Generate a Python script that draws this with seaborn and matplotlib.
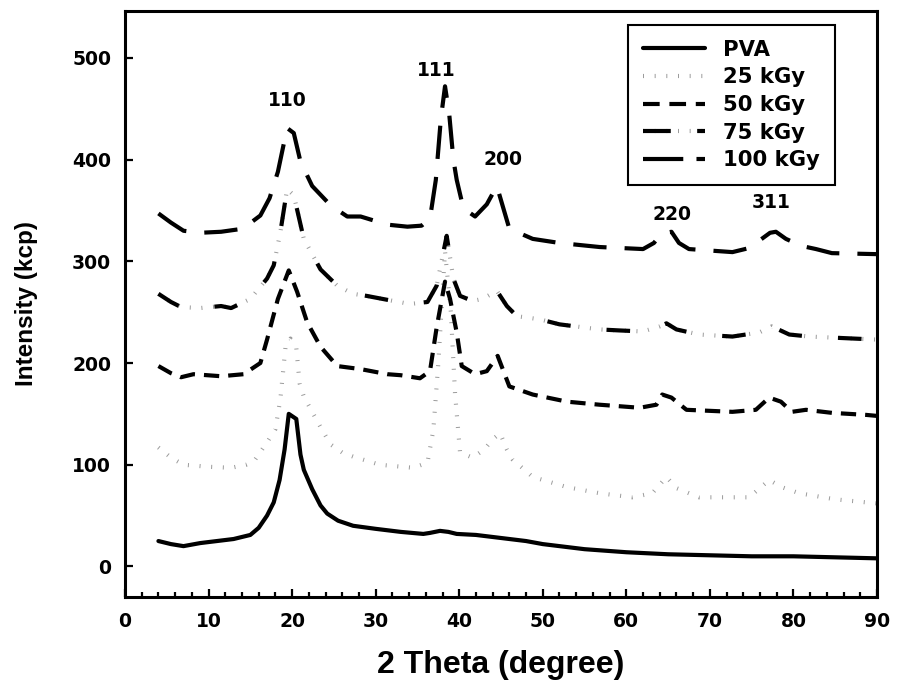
import numpy as np
import pandas as pd
import matplotlib
matplotlib.use("Agg")
import matplotlib.pyplot as plt
import seaborn as sns
from matplotlib.lines import Line2D
from matplotlib.legend_handler import HandlerTuple

sns.set_theme(style="white")
plt.rcParams["font.family"] = ["DejaVu Sans"]
plt.rcParams["lines.scale_dashes"] = False
plt.rcParams["text.color"] = "black"
plt.rcParams["axes.labelcolor"] = "black"
plt.rcParams["xtick.color"] = "black"
plt.rcParams["ytick.color"] = "black"

# ---------------- data ----------------
pva_x = [4, 5.5, 7, 9, 11, 13, 15, 16, 17, 17.8, 18.5, 19.1, 19.6, 20.5, 21, 21.4, 22.4,
         23.4, 24.2, 25.5, 27.3, 30, 33, 35.7, 36.5, 37.7, 38.7, 39.7, 42, 45, 48, 50,
         55, 60, 65, 70, 75, 80, 85, 90]
pva_y = [25, 22, 20, 23, 25, 27, 31, 38, 50, 63, 85, 115, 150, 145, 110, 95, 76,
         60, 52, 45, 40, 37, 34, 32, 33, 35, 34, 32, 31, 28, 25, 22,
         17, 14, 12, 11, 10, 10, 9, 8]

k25_x = [4, 5.5, 7, 10, 12.7, 14.5, 15.4, 17, 18, 18.6, 19.2, 19.8, 20.5, 20.9, 21.4,
         23.4, 24.6, 26, 27.3, 30.5, 34.5, 36.2, 36.9, 37.5, 38.3, 39, 39.5, 40.1, 41.6,
         43, 44, 44.9, 45.7, 46.4, 48.8, 52.9, 56.8, 60.7, 63.1, 64.8, 66, 68.7, 74.7,
         77.1, 78.6, 80.7, 85, 90]
k25_y = [117, 107, 100, 98, 97, 100, 103, 122, 135, 165, 215, 224, 215, 180, 167,
         137, 120, 112, 108, 100, 97, 102, 134, 200, 310, 250, 170, 112, 107,
         115, 125, 131, 115, 105, 88, 78, 72, 68, 72, 88, 77, 68, 68,
         85, 78, 72, 66, 62]

k50_x = [4, 5.5, 6.7, 8.2, 11.5, 14.2, 16.2, 17, 18.3, 19.6, 20.6, 21.8, 23.4, 25.4,
         28.2, 31.4, 33, 35.3, 36.5, 37.3, 38.3, 38.9, 39.7, 40.3, 41.9, 43.3, 44.6, 46,
         48.8, 52.9, 56.8, 61.6, 63.6, 64.3, 65.4, 67.2, 72.7, 75.5, 77.1, 78.5, 79.8,
         81.5, 84.6, 88.7, 90]
k50_y = [197, 190, 186, 189, 187, 189, 200, 223, 263, 291, 270, 240, 216, 197,
         194, 189, 188, 185, 192, 235, 280, 263, 230, 197, 189, 192, 207, 177,
         169, 162, 159, 156, 159, 169, 166, 154, 152, 154, 166, 162, 152,
         154, 151, 149, 148]

k75_x = [4, 5.5, 6.7, 9, 11.5, 12.7, 15, 17, 17.8, 18.6, 19.4, 20.2, 21.4, 23.4, 25.4,
         27.3, 28.9, 32.1, 34.1, 36.2, 37.3, 38.5, 39.3, 40.1, 41.6, 42.8, 44.5, 45.7,
         46.9, 49.6, 52, 56.8, 59.2, 62, 64, 64.8, 66, 68.7, 72.7, 75.9, 77.4, 79.5,
         81.9, 84.6, 90]
k75_y = [268, 260, 255, 254, 256, 254, 263, 283, 296, 329, 371, 365, 322, 292, 276,
         268, 266, 261, 258, 260, 276, 325, 283, 266, 261, 263, 271, 256,
         246, 243, 238, 233, 232, 231, 236, 239, 233, 228, 226, 230, 236, 228,
         226, 225, 223]

k100_x = [4, 5.5, 7, 9, 11.5, 14.1, 16.2, 17.3, 18.3, 19.4, 20.2, 21, 22.4, 24.6, 26.6,
          28.2, 31.4, 33.8, 35.5, 36.5, 37.2, 37.8, 38.3, 38.8, 39.3, 39.7, 40.5, 41.9,
          43.3, 44.5, 46, 48.8, 52, 56.8, 62, 63.3, 64.2, 65.4, 66.3, 67.5, 72.7, 74.7,
          77.2, 77.9, 79.1, 81, 82.7, 84.6, 90]
k100_y = [347, 338, 330, 328, 329, 332, 345, 362, 388, 431, 426, 398, 374, 355, 344,
          344, 336, 334, 335, 342, 380, 440, 472, 445, 400, 380, 352, 344,
          356, 374, 332, 322, 318, 314, 312, 318, 327, 329, 318, 312, 309, 313,
          328, 329, 322, 315, 312, 308, 307]

peak_labels = ["110", "111", "200", "220", "311"]
peak_x = [19.4, 37.2, 45.2, 65.5, 77.3]
peak_y = [458, 488, 400, 346, 358]

series_names = ["PVA", "25 kGy", "50 kGy", "75 kGy", "100 kGy"]
xticks = [0, 10, 20, 30, 40, 50, 60, 70, 80, 90]
yticks = [0, 100, 200, 300, 400, 500]

# ---------------- figure ----------------
fig = plt.figure(figsize=(8.99, 6.84), dpi=100)
ax = fig.add_axes([125 / 899, 87 / 684, 752 / 899, 586 / 684])

gray = "#9a9a9a"
dot_style = dict(color=gray, linewidth=3.0, linestyle=(0, (0.7, 7.7)), solid_capstyle="butt",
                 dash_capstyle="butt")

# PVA
sns.lineplot(x=pva_x, y=pva_y, ax=ax, color="black", linewidth=3.0, estimator=None, sort=False)
# 25 kGy
sns.lineplot(x=k25_x, y=k25_y, ax=ax, estimator=None, sort=False, **dot_style)
# 50 kGy
sns.lineplot(x=k50_x, y=k50_y, ax=ax, color="black", linewidth=3.0, estimator=None, sort=False,
             linestyle=(0, (11, 6.5)), dash_capstyle="butt")
# 75 kGy : gray dots + long black dashes
sns.lineplot(x=k75_x, y=k75_y, ax=ax, estimator=None, sort=False, **dot_style)
sns.lineplot(x=k75_x, y=k75_y, ax=ax, color="black", linewidth=3.0, estimator=None, sort=False,
             linestyle=(0, (17, 26)), dash_capstyle="butt")
# 100 kGy
sns.lineplot(x=k100_x, y=k100_y, ax=ax, color="black", linewidth=3.0, estimator=None, sort=False,
             linestyle=(0, (24, 13)), dash_capstyle="butt")

# peak labels
for t, px, py in zip(peak_labels, peak_x, peak_y):
    ax.text(px, py, t, ha="center", va="center", fontsize=13.5, fontweight="bold",
            family=["DejaVu Sans"], color="black")

# axes
ax.set_xlim(0, 90)
ax.set_ylim(-30, 546)
ax.set_xticks(xticks)
ax.set_xticks(np.arange(0, 91, 2), minor=True)
ax.set_yticks(yticks)
for s in ax.spines.values():
    s.set_linewidth(2.2)
    s.set_color("black")
ax.tick_params(axis="both", which="major", direction="in", length=6, width=1.6,
               colors="black", labelsize=13.5, bottom=True, left=True, top=False, right=False)
ax.tick_params(axis="x", which="minor", direction="in", length=3.5, width=1.6, bottom=True,
               top=False, colors="black")
ax.tick_params(axis="x", which="major", pad=11)
ax.tick_params(axis="y", which="major", pad=10)
for lab in ax.get_xticklabels() + ax.get_yticklabels():
    lab.set_fontweight("bold")
    lab.set_color("black")

ax.set_xlabel("2 Theta (degree)", fontsize=23, fontweight="bold",
              family=["Liberation Sans", "DejaVu Sans"], va="center", color="black")
ax.set_ylabel("Intensity (kcp)", fontsize=17.5, fontweight="bold",
              family=["Liberation Sans", "DejaVu Sans"], va="center", color="black")
ax.xaxis.set_label_coords(0.5, -0.116)
ax.yaxis.set_label_coords(-0.1316, 0.5)

# legend
h_pva = Line2D([], [], color="black", linewidth=3.0)
h_25 = Line2D([], [], **dot_style)
h_50 = Line2D([], [], color="black", linewidth=3.0, linestyle=(0, (12, 7)), dash_capstyle="butt")
h_75a = Line2D([], [], **dot_style)
h_75b = Line2D([], [], color="black", linewidth=3.0, linestyle=(0, (20, 19)), dash_capstyle="butt")
h_100 = Line2D([], [], color="black", linewidth=3.0, linestyle=(0, (29, 9.5)), dash_capstyle="butt")
leg = ax.legend([h_pva, h_25, h_50, (h_75a, h_75b), h_100], series_names,
                handler_map={tuple: HandlerTuple(ndivide=1)},
                loc="upper right", bbox_to_anchor=(0.944, 0.976), borderaxespad=0,
                frameon=True, fancybox=False, handlelength=2.95, handletextpad=0.85,
                labelspacing=0.36, borderpad=0.7,
                prop={"family": "DejaVu Sans", "weight": "bold", "size": 15.2})
for txt in leg.get_texts():
    txt.set_color("black")
leg.get_frame().set_edgecolor("black")
leg.get_frame().set_linewidth(1.5)
leg.get_frame().set_facecolor("white")
leg.get_frame().set_alpha(1)

fig.savefig("out.png", dpi=100)
